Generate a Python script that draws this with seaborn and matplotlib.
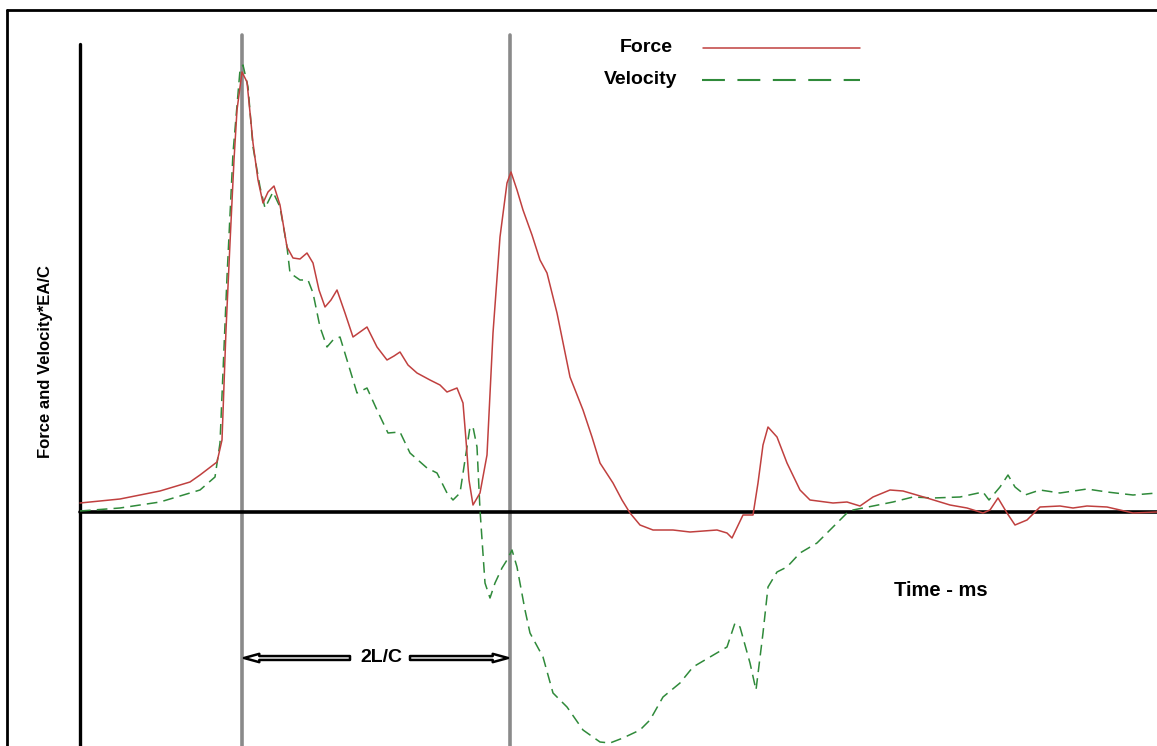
import matplotlib
matplotlib.use("Agg")
import matplotlib.pyplot as plt
import seaborn as sns
import pandas as pd

# ---- data (time in screen-units from origin, amplitude relative to zero line) ----
force_t = [80,120,160,190,200,217,222,226,230,234,237,242,247,253,258,263,268,274,280,287,293,300,307,313,319,325,331,337,345,353,360,367,377,387,394,400,408,417,430,440,447,457,463,466,469,473,480,487,493,500,507,511,517,523,532,540,547,557,570,583,592,600,613,622,630,640,653,673,690,717,727,732,743,753,758,763,768,777,787,800,810,833,847,860,873,890,903,927,950,967,983,990,998,1007,1015,1027,1040,1060,1073,1087,1107,1120,1133,1157]
force_py = [503,499,491,482,475,462,440,330,243,160,110,72,82,143,180,203,192,186,205,247,258,259,253,263,290,307,300,290,313,337,332,327,347,360,356,352,365,373,380,385,392,388,403,440,480,505,493,455,333,237,183,172,190,210,235,260,273,313,377,410,437,463,483,500,513,525,530,530,532,530,533,538,515,515,483,445,427,437,463,490,500,503,502,506,497,490,491,498,505,508,513,510,498,513,525,520,507,506,508,506,507,510,513,512]

vel_t = [80,120,160,200,215,220,227,233,240,243,248,253,260,265,273,280,287,290,300,308,313,320,327,333,340,347,357,367,377,388,400,410,427,437,447,453,460,465,470,473,477,480,485,490,495,502,507,512,517,525,530,543,553,567,583,600,610,623,640,650,663,680,693,710,727,735,740,750,756,763,768,777,787,800,817,833,847,853,873,893,913,933,960,983,989,1000,1008,1015,1025,1040,1060,1087,1107,1133,1157]
vel_py = [511,508,502,490,477,443,277,153,70,65,87,147,187,208,192,207,247,273,280,280,293,327,347,340,337,360,393,388,410,433,432,453,468,473,493,500,493,460,427,427,447,510,583,598,583,568,560,550,567,610,633,657,693,707,730,742,743,738,730,720,697,683,667,657,647,623,627,663,690,633,587,572,567,553,543,527,513,510,506,502,497,498,497,492,500,487,475,487,495,490,493,489,492,495,493]

ZERO = 512
force_v = [ZERO - p for p in force_py]
vel_v = [ZERO - p for p in vel_py]

series_names = ["Force", "Velocity"]
label_2lc = "2L/C"
x_label = "Time - ms"
y_label = "Force and Velocity*EA/C"

W, H = 1157, 746
fig = plt.figure(figsize=(W / 100, H / 100), dpi=100)
ax = fig.add_axes([0, 0, 1, 1])
sns.set_style("white")
plt.rcParams['font.family'] = ['Liberation Sans', 'DejaVu Sans']

red = "#c0403f"
green = "#2f8a3a"

df_f = pd.DataFrame({"t": force_t, "v": force_v})
df_v = pd.DataFrame({"t": vel_t, "v": vel_v})

ax.set_xlim(0, W)
ax.set_ylim(ZERO - H, ZERO)

# reference lines
ax.plot([242, 242], [ZERO - 35, ZERO - H], color="#8a8a8a", lw=2.6, zorder=1)
ax.plot([510, 510], [ZERO - 35, ZERO - H], color="#8a8a8a", lw=2.6, zorder=1)
ax.plot([80, 80], [ZERO - 44, ZERO - H], color="black", lw=2.4, zorder=1)
ax.plot([80, W], [0, 0], color="black", lw=2.6, zorder=1)

sns.lineplot(data=df_f, x="t", y="v", ax=ax, color=red, lw=1.1, sort=False, zorder=3)
sns.lineplot(data=df_v, x="t", y="v", ax=ax, color=green, lw=1.1, sort=False,
             linestyle=(0, (7, 4)), zorder=2)
ax.set_xlim(0, W)
ax.set_ylim(ZERO - H, ZERO)
ax.axis("off")

# frame of the picture
ax.plot([7, 7], [ZERO - 10, ZERO - H], color="black", lw=2.0, clip_on=False)
ax.plot([7, W], [ZERO - 10, ZERO - 10], color="black", lw=2.0, clip_on=False)

txt = dict(color="black", fontweight="bold")
# legend
ax.text(673, ZERO - 47, series_names[0], ha="right", va="center", fontsize=14, **txt)
ax.plot([703, 860], [ZERO - 48, ZERO - 48], color=red, lw=1.1)
ax.text(677, ZERO - 79, series_names[1], ha="right", va="center", fontsize=14, **txt)
ax.plot([702, 860], [ZERO - 80, ZERO - 80], color=green, lw=1.5, linestyle=(0, (11, 6)))

# labels
ax.text(941, ZERO - 590, x_label, ha="center", va="center", fontsize=14.5, **txt)
ax.text(46, ZERO - 362, y_label, ha="center", va="center", rotation=90, fontsize=12, **txt)
ax.text(381, ZERO - 658, label_2lc, ha="center", va="center", fontsize=14, **txt)

arrow_style = dict(arrowstyle="simple,head_width=0.6,head_length=1.1,tail_width=0.28",
                   fc="white", ec="black", lw=1.8, shrinkA=0, shrinkB=0)
ax.annotate("", xy=(244, ZERO - 658), xytext=(350, ZERO - 658), arrowprops=arrow_style)
ax.annotate("", xy=(508, ZERO - 658), xytext=(410, ZERO - 658), arrowprops=arrow_style)

fig.savefig("out.png", dpi=100, facecolor="white")
